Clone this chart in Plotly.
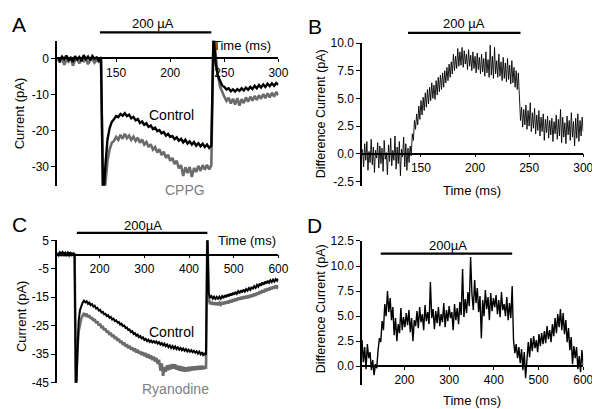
import plotly.graph_objects as go

W, H = 600, 409
FONT = "Liberation Sans, Arial, sans-serif"
GREY = "#6b6b6b"

# ── Panel A: current during 200 µA stimulus, control vs CPPG (ms, pA) ────────
t_a = [96 + 2 * i for i in range(103)]
a_control = [
    0.3, -0.6, 0.5, -0.2, 0.8, -0.4, 0.2, -0.9, 0.6, -0.3,
    0.4, -0.7, 0.9, -0.2, 0.5, -0.5, 0.7, -0.1, 0.3, -0.6,
    0.4, -40, -30, -22.5, -19.3, -17.6, -16.9, -16.0, -16.3, -15.4,
    -15.9, -15.2, -16.0, -15.6, -16.6, -16.2, -17.2, -16.8, -17.9, -17.5,
    -18.4, -18.0, -19.0, -18.6, -19.6, -19.2, -20.2, -19.9, -20.8, -20.4,
    -21.4, -20.9, -21.8, -21.5, -22.4, -21.9, -22.8, -22.3, -23.3, -22.6,
    -23.6, -23.0, -23.9, -23.2, -24.2, -23.5, -24.4, -23.7, -24.6, -23.9,
    -24.8, -24.2, 7, -1.5, -4.8, -6.4, -7.5, -7.9, -8.6, -8.3,
    -9.1, -8.6, -9.2, -8.5, -9.0, -8.3, -8.9, -8.1, -8.7, -7.9,
    -8.5, -7.6, -8.3, -7.4, -8.1, -7.2, -7.9, -7.0, -7.7, -6.9,
    -7.6, -6.8, -7.3,
]
a_cppg = [
    -0.2, -1.1, 0.3, -1.8, -0.4, -0.9, 0.2, -2.0, -0.6, -0.1,
    -1.4, -0.3, -0.8, 0.1, -1.6, -0.5, -0.2, -1.2, -0.4, -0.9,
    -0.3, -40, -35, -28.5, -25.2, -23.4, -22.9, -21.8, -22.6, -21.2,
    -22.3, -20.9, -22.1, -21.4, -22.6, -21.7, -22.9, -22.0, -23.4, -22.5,
    -23.9, -23.2, -24.6, -23.8, -25.3, -24.6, -26.1, -25.2, -26.8, -25.9,
    -27.6, -26.7, -28.4, -27.6, -29.3, -28.4, -30.5, -29.6, -32.6, -30.2,
    -31.8, -30.1, -32.9, -30.4, -31.5, -29.8, -31.2, -29.6, -30.9, -29.5,
    -30.8, -29.6, 7, 1, -4.5, -7.8, -9.4, -10.6, -11.8, -10.9,
    -12.5, -11.2, -12.8, -11.0, -13.1, -11.3, -12.4, -10.8, -12.0, -10.6,
    -11.7, -10.4, -11.5, -10.2, -11.2, -9.9, -11.0, -9.7, -10.8, -9.5,
    -10.6, -9.3, -10.2,
]
stim_a = [135, 238]

# ── Panel B: difference current (control - CPPG) ─────────────────────────────
t_b = [96 + i for i in range(205)]
b_diff = [
    0.4, -1.2, 0.9, -0.6, 1.1, -1.5, 0.2, -0.8, 1.3, -1.0,
    0.6, -1.7, 0.3, -0.4, 1.0, -1.3, 0.7, -0.9, 0.5, -1.6,
    1.2, -0.5, 0.1, -1.9, 0.8, -0.7, 1.4, -1.1, 0.3, -0.6,
    1.6, -1.4, 0.6, -0.9, 1.1, -2.0, 0.4, -0.3, 1.5, -1.2,
    0.9, -1.5, 0.5, -0.8, 0.7, -0.2, 1.8, 1.2, 3.0, 2.2,
    3.6, 2.6, 4.3, 3.1, 4.8, 3.5, 5.1, 3.9, 5.5, 4.2,
    5.8, 4.5, 6.0, 4.8, 6.4, 5.0, 6.2, 4.9, 6.6, 5.3,
    6.9, 5.6, 7.1, 5.8, 7.3, 6.0, 7.5, 6.4, 7.8, 6.6,
    8.1, 6.9, 8.3, 7.2, 9.0, 7.5, 8.8, 7.7, 9.5, 7.9,
    9.2, 8.0, 9.6, 7.8, 9.3, 8.1, 9.0, 7.6, 9.4, 7.9,
    8.9, 7.5, 9.2, 7.7, 8.8, 7.3, 9.1, 7.6, 8.7, 7.2,
    9.0, 7.4, 8.6, 7.0, 9.2, 7.3, 8.5, 6.9, 9.8, 7.1,
    8.8, 6.8, 9.6, 7.2, 8.4, 6.9, 9.0, 7.0, 8.3, 6.6,
    8.7, 6.8, 8.2, 6.5, 8.6, 6.7, 8.0, 6.3, 8.4, 6.4,
    7.8, 6.0, 7.5, 5.8, 7.3, 5.6, 3.0, 4.2, 2.4, 4.0,
    2.6, 4.4, 2.2, 3.9, 2.5, 4.6, 2.0, 3.7, 2.3, 4.1,
    1.8, 3.5, 2.1, 3.9, 1.6, 3.3, 2.0, 3.6, 1.2, 3.1,
    1.9, 3.4, 1.4, 3.0, 1.7, 3.2, 1.1, 2.9, 1.8, 3.5,
    1.3, 3.1, 1.6, 4.0, 1.0, 3.3, 1.5, 2.8, 0.9, 3.4,
    1.7, 3.0, 1.2, 3.7, 1.5, 2.9, 0.7, 3.2, 1.4, 3.6,
    1.1, 3.0, 1.6, 3.3, 2.0,
]
stim_b = [138, 242]

# ── Panel C: longer stimulus, control vs ryanodine ────────────────────────────
t_c = [105 + 3 * i for i in range(166)]
c_control = [
    0.6, 0.1, 0.8, 0.3, 0.9, 0.2, 0.7, 0.0, 0.8, 0.4,
    0.6, -0.1, 0.5, 0.2, -50, -32, -23.5, -19.5, -17.8, -16.9,
    -16.2, -16.8, -16.4, -17.3, -16.9, -17.8, -17.4, -18.3, -18.0, -18.9,
    -18.7, -19.6, -19.4, -20.3, -20.1, -21.0, -20.8, -21.6, -21.3, -22.2,
    -21.9, -22.8, -22.5, -23.4, -23.1, -23.9, -23.7, -24.6, -24.3, -25.1,
    -24.9, -25.8, -25.6, -26.5, -26.3, -27.2, -26.9, -27.9, -27.6, -28.5,
    -28.1, -29.0, -28.6, -29.5, -29.1, -30.0, -29.6, -30.4, -29.9, -30.7,
    -30.2, -30.9, -30.4, -31.0, -30.5, -31.3, -30.8, -31.6, -31.1, -31.9,
    -31.3, -32.2, -31.6, -32.5, -31.9, -32.8, -32.1, -33.0, -32.3, -33.2,
    -32.6, -33.4, -32.8, -33.6, -33.0, -33.8, -33.2, -34.0, -33.4, -34.1,
    -33.6, -34.3, -33.8, -34.5, -34.0, -34.8, -34.1, -35.0, -34.3, -35.6,
    -34.5, -35.2, 8, -13.5, -15.2, -14.6, -15.5, -14.8, -15.6, -14.9,
    -15.7, -14.8, -15.5, -14.6, -15.3, -14.3, -15.0, -14.0, -14.7, -13.7,
    -14.4, -13.4, -14.1, -13.1, -13.8, -12.9, -13.6, -12.6, -13.3, -12.3,
    -13.0, -12.1, -12.7, -11.8, -12.4, -11.4, -12.1, -11.1, -11.7, -10.7,
    -11.3, -10.2, -10.9, -9.8, -10.6, -9.5, -10.2, -9.2, -9.9, -9.0,
    -9.7, -8.8, -9.5, -8.6, -9.2, -8.5,
]
c_ryanodine = [
    0.2, -0.4, 0.5, -0.2, 0.3, -0.6, 0.4, -0.3, 0.1, -0.5,
    0.3, -0.2, 0.0, -0.4, -50, -34, -27, -23.8, -22.4, -21.5,
    -20.6, -21.4, -20.8, -22.0, -21.3, -22.6, -22.0, -23.3, -22.7, -24.1,
    -23.4, -24.9, -24.3, -25.8, -25.1, -26.6, -26.0, -27.4, -26.8, -28.2,
    -27.5, -28.9, -28.2, -29.6, -28.9, -30.3, -29.6, -31.0, -30.3, -31.7,
    -30.9, -32.3, -31.5, -32.9, -32.0, -33.4, -32.5, -33.9, -33.0, -34.4,
    -33.4, -34.8, -33.9, -35.3, -34.3, -35.7, -34.6, -36.2, -35.0, -36.6,
    -35.4, -37.1, -35.8, -37.6, -36.3, -38.4, -36.9, -40.8, -38.2, -42.6,
    -39.5, -41.2, -38.9, -40.6, -38.7, -40.3, -38.5, -40.1, -38.6, -40.4,
    -39.0, -40.8, -39.2, -41.0, -39.4, -41.1, -39.6, -41.0, -39.5, -40.9,
    -39.4, -40.7, -39.3, -40.6, -39.2, -40.5, -39.1, -40.4, -39.0, -40.3,
    -39.2, -40.1, 8, -15.5, -17.4, -16.6, -17.6, -16.8, -17.7, -16.9,
    -17.8, -16.9, -17.6, -16.7, -17.5, -16.5, -17.3, -16.3, -17.1, -16.0,
    -16.8, -15.7, -16.5, -15.4, -16.2, -15.1, -15.9, -14.9, -15.7, -14.7,
    -15.5, -14.5, -15.3, -14.3, -15.1, -14.0, -14.8, -13.7, -14.5, -13.3,
    -14.1, -12.9, -13.7, -12.5, -13.3, -12.1, -12.9, -11.8, -12.6, -11.5,
    -12.2, -11.2, -11.9, -10.9, -11.6, -10.9,
]
stim_c = [149, 441]

# ── Panel D: difference current (control - ryanodine) ────────────────────────
t_d = [105 + 3 * i for i in range(166)]
d_diff = [
    2.6, 0.4, 1.9, -0.3, 2.2, 0.8, 1.4, -0.4, 0.6, -0.9,
    0.2, -0.2, 1.6, 2.8, 2.4, 4.5, 3.6, 6.2, 5.0, 7.5,
    5.4, 6.8, 4.6, 5.9, 3.1, 4.8, 2.5, 4.2, 3.3, 5.8,
    3.6, 4.9, 3.9, 5.3, 4.1, 5.6, 3.4, 4.8, 2.5, 4.6,
    4.0, 5.5, 3.8, 5.9, 4.4, 5.2, 3.6, 6.1, 4.5, 5.4,
    4.2, 8.4, 4.8, 5.7, 3.7, 5.5, 4.3, 5.9, 4.0, 5.2,
    4.4, 6.3, 3.9, 5.6, 4.5, 6.0, 4.8, 5.4, 3.6, 6.2,
    4.6, 5.8, 4.2, 6.4, 5.1, 9.7, 4.9, 6.7, 5.3, 7.4,
    6.0, 10.9, 7.2, 5.6, 8.6, 6.3, 7.8, 5.4, 7.0, 2.8,
    6.6, 5.0, 7.6, 5.7, 6.9, 4.6, 7.3, 5.5, 6.8, 5.9,
    7.1, 5.2, 6.6, 4.9, 7.4, 5.6, 6.2, 5.0, 6.9, 4.6,
    6.3, 4.8, 8.0, 2.6, 1.3, 2.2, 0.8, 1.9, 0.3, 1.7,
    -0.4, 1.4, -1.2, 1.0, 2.4, 0.9, 2.8, 1.5, 3.0, 1.8,
    2.6, 1.4, 3.2, 2.0, 3.3, 2.2, 3.5, 2.3, 4.0, 2.7,
    3.6, 2.4, 4.2, 3.0, 4.8, 3.3, 5.2, 3.9, 5.7, 3.6,
    5.3, 3.2, 4.6, 2.4, 3.8, 1.6, 2.9, 0.2, 2.0, 0.8,
    1.9, -0.3, 1.0, -0.6, 1.6, 0.1,
]
stim_d = [147, 441]


def fx(p):
    return p / W


def fy(p):
    return 1 - p / H


# pixel boxes of each plot area and the data ranges they show
panels = [
    dict(xd=(50, 275), yd=(26.7, 176.7), xr=(95.5, 300), yr=(-35.3, 4.9),
         xt=[150, 200, 250, 300], yt=[0, -10, -20, -30]),
    dict(xd=(360, 585), yd=(29, 177.3), xr=(95.5, 300), yr=(-2.94, 10.0),
         xt=[150, 200, 250, 300], yt=[10.0, 7.5, 5.0, 2.5, 0.0, -2.5]),
    dict(xd=(50, 275), yd=(233.3, 380.7), xr=(105, 600), yr=(-45, 5),
         xt=[200, 300, 400, 500, 600], yt=[5, -5, -15, -25, -35, -45]),
    dict(xd=(360, 585), yd=(234, 383.3), xr=(105, 600), yr=(-1.9, 12.5),
         xt=[200, 300, 400, 500, 600], yt=[12.5, 10.0, 7.5, 5.0, 2.5, 0.0]),
]
ytext = [
    [str(v) for v in panels[0]["yt"]],
    [f"{v:.1f}" for v in panels[1]["yt"]],
    [str(v) for v in panels[2]["yt"]],
    [f"{v:.1f}" for v in panels[3]["yt"]],
]

fig = go.Figure()

traces = [
    (1, t_a, a_cppg, GREY, 2.6),
    (1, t_a, a_control, "black", 2.4),
    (2, t_b, b_diff, "black", 0.9),
    (3, t_c, c_ryanodine, GREY, 2.6),
    (3, t_c, c_control, "black", 2.0),
    (4, t_d, d_diff, "black", 1.4),
]
for n, t, y, col, lw in traces:
    sfx = "" if n == 1 else str(n)
    fig.add_trace(go.Scatter(
        x=t, y=y, mode="lines", line=dict(color=col, width=lw),
        xaxis="x" + sfx, yaxis="y" + sfx, showlegend=False, hoverinfo="skip",
    ))

tickfont = dict(family=FONT, size=12, color="black")
for n, p in enumerate(panels, start=1):
    sfx = "" if n == 1 else str(n)
    y_lo, y_hi = fy(p["yd"][1]), fy(p["yd"][0])
    ymin, ymax = p["yr"]
    zero = y_lo + (0 - ymin) / (ymax - ymin) * (y_hi - y_lo)
    fig.layout["xaxis" + sfx] = dict(
        domain=[fx(p["xd"][0]), fx(p["xd"][1])], range=list(p["xr"]),
        anchor="free", position=zero,
        tickvals=p["xt"], ticktext=[str(v) for v in p["xt"]],
        showline=True, linecolor="black", linewidth=1.5,
        ticks="outside", ticklen=3, tickwidth=1.3, tickcolor="black",
        showgrid=False, zeroline=False, tickfont=tickfont,
    )
    fig.layout["yaxis" + sfx] = dict(
        domain=[y_lo, y_hi], range=[ymin, ymax], anchor="x" + sfx,
        tickvals=p["yt"], ticktext=ytext[n - 1],
        showline=True, linecolor="black", linewidth=1.5,
        ticks="outside", ticklen=4, tickwidth=1.3, tickcolor="black",
        showgrid=False, zeroline=False, tickfont=tickfont,
    )

# stimulus bars
for sfx, stim, ypx in [("", stim_a, 18), ("2", stim_b, 18.5),
                       ("3", stim_c, 225.7), ("4", stim_d, 247)]:
    fig.add_shape(type="line", xref="x" + sfx, yref="paper",
                  x0=stim[0], x1=stim[1], y0=fy(ypx), y1=fy(ypx),
                  line=dict(color="black", width=2.2))


def label(text, xpx, ypx, size=13, color="black", angle=0, xanchor="center"):
    fig.add_annotation(text=text, x=fx(xpx), y=fy(ypx), xref="paper", yref="paper",
                       showarrow=False, textangle=angle, xanchor=xanchor,
                       yanchor="middle", font=dict(family=FONT, size=size, color=color))


# panel letters
label("A", 11, 10, size=21)
label("B", 312, 12, size=21)
label("C", 12, 217, size=21)
label("D", 312, 218, size=21)

# stimulus labels
label("200 µA", 147, 9)
label("200 µA", 464, 9)
label("200µA", 137, 218)
label("200µA", 447, 239)

# axis titles
label("Time (ms)", 269, 32, xanchor="right")
label("Time (ms)", 275, 233, xanchor="right")
label("Time (ms)", 472, 182)
label("Time (ms)", 472, 399)
label("Current (pA)", 12, 102, angle=-90)
label("Difference Current (pA)", 318, 102, angle=-90, size=12.5)
label("Current (pA)", 14, 312, angle=-90)
label("Difference Current (pA)", 318, 304, angle=-90, size=12.5)

# trace labels
label("Control", 166, 104, size=14)
label("CPPG", 180, 181, size=14, color="#808080")
label("Control", 166, 328, size=14)
label("Ryanodine", 170, 387, size=14, color="#808080")

fig.update_layout(
    width=W, height=H, autosize=False,
    margin=dict(l=0, r=0, t=0, b=0),
    paper_bgcolor="white", plot_bgcolor="white",
)

fig.write_html("out.html")
